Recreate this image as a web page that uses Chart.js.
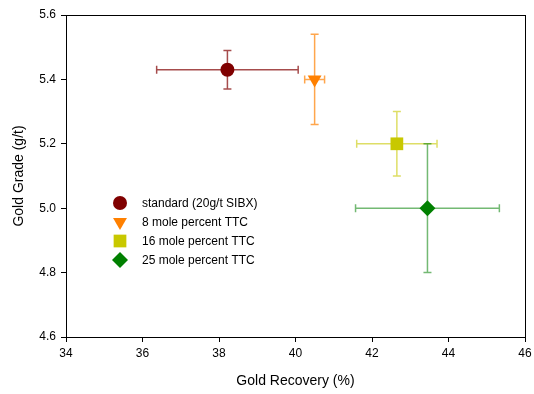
<!DOCTYPE html>
<html>
<head>
<meta charset="utf-8">
<script src="https://cdn.jsdelivr.net/npm/chart.js@4/dist/chart.umd.min.js"></script>
<style>
  html, body { margin: 0; padding: 0; background: #fff; }
  #wrap { width: 534px; height: 394px; position: relative; }
</style>
</head>
<body>
<div id="wrap"><canvas id="chart"></canvas></div>
<script>
// 回収率と品位（平均 ± 誤差）
const seriesNames = ['standard (20g/t SIBX)', '8 mole percent TTC', '16 mole percent TTC', '25 mole percent TTC'];
const recovery = [38.22, 40.5, 42.65, 43.45];
const grade = [5.43, 5.40, 5.20, 5.00];
const recoveryErr = [1.85, 0.26, 1.05, 1.88];
const gradeErr = [0.06, 0.14, 0.10, 0.20];
const xTicks = [34, 36, 38, 40, 42, 44, 46];
const yTicks = [4.6, 4.8, 5.0, 5.2, 5.4, 5.6];

const markerColors = ['#800000', '#ff8000', '#c8c800', '#008000'];
const barColors = ['rgba(128,0,0,0.7)', 'rgba(255,128,0,0.7)', 'rgba(200,200,0,0.6)', 'rgba(0,128,0,0.55)'];
const markerStyles = [
  { pointStyle: 'circle', radius: 7, rotation: 0 },
  { pointStyle: 'triangle', radius: 8, rotation: 180 },
  { pointStyle: 'rect', radius: 9, rotation: 0 },
  { pointStyle: 'rectRot', radius: 8, rotation: 0 }
];

const FONT = '"Liberation Sans", Arial, sans-serif';

// 誤差棒（データセットの下に描画）
const errorBars = {
  id: 'errorBars',
  beforeDatasetsDraw(chart) {
    const ctx = chart.ctx;
    const xs = chart.scales.x, ys = chart.scales.y;
    const cap = 4;
    ctx.save();
    ctx.lineWidth = 1.5;
    recovery.forEach((rx, i) => {
      const px = xs.getPixelForValue(rx);
      const py = ys.getPixelForValue(grade[i]);
      const x0 = xs.getPixelForValue(rx - recoveryErr[i]);
      const x1 = xs.getPixelForValue(rx + recoveryErr[i]);
      const y0 = ys.getPixelForValue(grade[i] + gradeErr[i]);
      const y1 = ys.getPixelForValue(grade[i] - gradeErr[i]);
      ctx.strokeStyle = barColors[i];
      ctx.beginPath();
      ctx.moveTo(x0, py); ctx.lineTo(x1, py);
      ctx.moveTo(x0, py - cap); ctx.lineTo(x0, py + cap);
      ctx.moveTo(x1, py - cap); ctx.lineTo(x1, py + cap);
      ctx.moveTo(px, y0); ctx.lineTo(px, y1);
      ctx.moveTo(px - cap, y0); ctx.lineTo(px + cap, y0);
      ctx.moveTo(px - cap, y1); ctx.lineTo(px + cap, y1);
      ctx.stroke();
    });
    ctx.restore();
  },
  afterDraw(chart) {
    const ctx = chart.ctx;
    const a = chart.chartArea;
    // 枠線
    ctx.save();
    ctx.strokeStyle = '#000';
    ctx.lineWidth = 1;
    ctx.strokeRect(Math.round(a.left) + 0.5, Math.round(a.top) + 0.5, Math.round(a.right - a.left), Math.round(a.bottom - a.top));
    ctx.restore();

    // 凡例（プロット内）
    ctx.save();
    ctx.font = '12px ' + FONT;
    ctx.textBaseline = 'middle';
    seriesNames.forEach((name, i) => {
      const y = 203 + i * 19;
      const m = markerStyles[i];
      ctx.fillStyle = markerColors[i];
      ctx.strokeStyle = markerColors[i];
      Chart.helpers.drawPoint(ctx, { pointStyle: m.pointStyle, radius: m.radius, rotation: m.rotation, borderWidth: 0 }, 120, y);
      ctx.fillStyle = '#000';
      ctx.fillText(name, 142, y + 1);
    });
    ctx.restore();
  }
};

const datasets = seriesNames.map((name, i) => ({
  label: name,
  data: [{ x: recovery[i], y: grade[i] }],
  pointStyle: markerStyles[i].pointStyle,
  pointRadius: markerStyles[i].radius,
  pointRotation: markerStyles[i].rotation,
  backgroundColor: markerColors[i],
  borderColor: markerColors[i],
  borderWidth: 0
}));

new Chart(document.getElementById('chart'), {
  type: 'scatter',
  data: { datasets },
  options: {
    responsive: true,
    maintainAspectRatio: false,
    animation: false,
    layout: { padding: { left: 0, right: 3, top: 15, bottom: 0 } },
    plugins: { legend: { display: false }, tooltip: { enabled: false } },
    scales: {
      x: {
        type: 'linear',
        min: 34, max: 46,
        afterBuildTicks: (s) => { s.ticks = xTicks.map(v => ({ value: v })); },
        afterFit: (s) => { s.height = 57; s.paddingLeft = 0; s.paddingRight = 0; },
        grid: { drawOnChartArea: false, drawTicks: true, tickLength: 5, color: '#000' },
        border: { display: true, color: '#000' },
        ticks: { color: '#000', font: { size: 12, family: FONT }, padding: 4, maxRotation: 0 },
        title: { display: true, text: 'Gold Recovery (%)', color: '#000', font: { size: 14, family: FONT }, padding: { top: 11 } }
      },
      y: {
        type: 'linear',
        min: 4.6, max: 5.6,
        afterBuildTicks: (s) => { s.ticks = yTicks.map(v => ({ value: v })); },
        afterFit: (s) => { s.width = 66; s.paddingTop = 0; s.paddingBottom = 0; },
        grid: { drawOnChartArea: false, drawTicks: true, tickLength: 5, color: '#000' },
        border: { display: true, color: '#000' },
        ticks: { color: '#000', font: { size: 12, family: FONT }, padding: 5, callback: v => v.toFixed(1) },
        title: { display: true, text: 'Gold Grade (g/t)', color: '#000', font: { size: 14, family: FONT }, padding: { top: 11, bottom: 0 } }
      }
    }
  },
  plugins: [errorBars]
});
</script>
</body>
</html>
